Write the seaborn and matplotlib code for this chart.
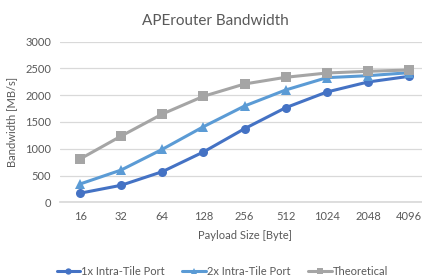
import matplotlib
matplotlib.use("Agg")
import matplotlib.pyplot as plt
import pandas as pd
import seaborn as sns

PAYLOAD = ["16", "32", "64", "128", "256", "512", "1024", "2048", "4096"]
ONE_PORT = [170, 318, 572, 940, 1375, 1767, 2060, 2247, 2353]
TWO_PORT = [342, 603, 990, 1412, 1799, 2098, 2328, 2365, 2421]
THEORETICAL = [809, 1238, 1649, 1980, 2210, 2335, 2415, 2447, 2471]

SERIES = ["1x Intra-Tile Port", "2x Intra-Tile Port", "Theoretical"]
COLORS = ["#4472C4", "#5B9BD5", "#A5A5A5"]
MARKERS = ["o", "^", "s"]

frames = []
for name, vals in zip(SERIES, [ONE_PORT, TWO_PORT, THEORETICAL]):
    frames.append(pd.DataFrame({"payload": PAYLOAD, "bw": vals, "series": name}))
df = pd.concat(frames, ignore_index=True)

sns.set_theme(style="white")
plt.rcParams["font.family"] = ["Lato", "DejaVu Sans"]
TXT = "#595959"

fig = plt.figure(figsize=(4.22, 2.8), dpi=100)
ax = fig.add_axes([0.141, 0.2775, 0.877, 0.5736])

sns.lineplot(
    data=df, x="payload", y="bw", hue="series", style="series",
    hue_order=SERIES, style_order=SERIES,
    palette=COLORS, markers=MARKERS, dashes=False,
    linewidth=2.2, markersize=6.5, markeredgewidth=0,
    sort=False, ax=ax,
)

ax.set_xlim(-0.5, 8.5)
ax.set_ylim(0, 3000)
ax.set_yticks(range(0, 3001, 500))
ax.grid(True, axis="y", color="#D9D9D9", linewidth=0.9)
ax.set_axisbelow(True)
for s in ["top", "right", "left"]:
    ax.spines[s].set_visible(False)
ax.spines["bottom"].set_color("#D9D9D9")
ax.tick_params(axis="both", length=0, labelsize=8, colors=TXT, pad=6)

ax.set_title("APErouter Bandwidth", fontsize=11, color=TXT, pad=12, x=0.42)
ax.set_xlabel("Payload Size [Byte]", fontsize=8, color=TXT, labelpad=6)
ax.set_ylabel("Bandwidth [MB/s]", fontsize=8, color=TXT, labelpad=6)

ax.legend(
    loc="center", bbox_to_anchor=(0.44, -0.43), ncol=3, frameon=False,
    fontsize=8, labelcolor=TXT, handlelength=2.1, columnspacing=1.6,
    handletextpad=0.1, markerscale=0.7,
)

fig.savefig("out.png", dpi=100)
